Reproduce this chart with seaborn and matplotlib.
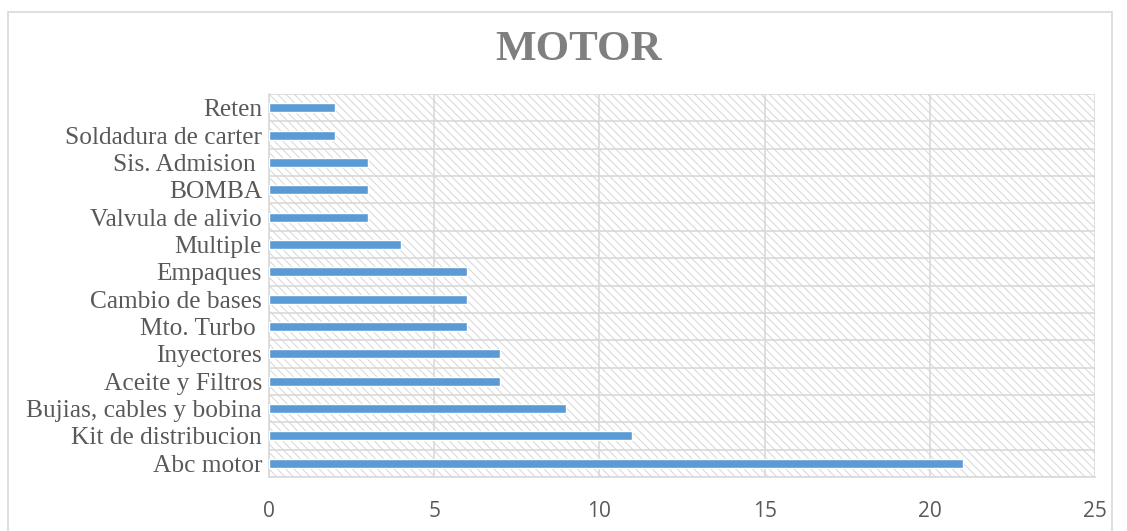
import matplotlib
matplotlib.use("Agg")
import matplotlib.pyplot as plt
from matplotlib.patches import Rectangle
from matplotlib.ticker import MultipleLocator
import seaborn as sns
import pandas as pd

categories = [
    "Reten", "Soldadura de carter", "Sis. Admision ", "BOMBA",
    "Valvula de alivio", "Multiple", "Empaques", "Cambio de bases",
    "Mto. Turbo ", "Inyectores", "Aceite y Filtros",
    "Bujias, cables y bobina", "Kit de distribucion", "Abc motor",
]
values = [2, 2, 3, 3, 3, 4, 6, 6, 6, 7, 7, 9, 11, 21]
x_ticks = [0, 5, 10, 15, 20, 25]

df = pd.DataFrame({"categoria": categories, "valor": values})

sns.set_theme(style="white")
plt.rcParams["hatch.linewidth"] = 0.7
plt.rcParams["hatch.color"] = "#d6d6d6"

fig = plt.figure(figsize=(11.27, 5.31), dpi=100)
ax = fig.add_axes([269 / 1127, 1 - 477 / 531, (1095 - 269) / 1127, (477 - 94) / 531])

# hatched plot-area background
ax.add_patch(Rectangle((0, 0), 1, 1, transform=ax.transAxes, facecolor="white",
                       edgecolor="#d6d6d6", hatch="\\\\\\\\", linewidth=0, zorder=0))

sns.barplot(data=df, x="valor", y="categoria", orient="h", color="#5B9BD5",
            width=0.33, saturation=1, ax=ax, zorder=3)

ax.set_xlim(0, 25)
ax.set_ylim(len(categories) - 0.5, -0.5)
ax.set_xticks(x_ticks)
ax.set_xticklabels([str(t) for t in x_ticks])
ax.yaxis.set_minor_locator(MultipleLocator(1, offset=0.5))
ax.grid(True, axis="x", which="major", color="#d9d9d9", linewidth=1.2, zorder=1)
ax.grid(True, axis="y", which="minor", color="#d9d9d9", linewidth=1.2, zorder=1)
ax.grid(False, axis="y", which="major")
ax.set_axisbelow(True)
for s in ax.spines.values():
    s.set_visible(False)
ax.spines["left"].set_visible(True)
ax.spines["left"].set_color("#d9d9d9")
ax.spines["left"].set_linewidth(1.2)
ax.spines["bottom"].set_visible(True)
ax.spines["bottom"].set_color("#d9d9d9")
ax.spines["bottom"].set_linewidth(1.2)
ax.set_xlabel("")
ax.set_ylabel("")
ax.tick_params(axis="both", which="both", length=0)
ax.tick_params(axis="x", pad=17, labelsize=15, labelcolor="#595959")
ax.tick_params(axis="y", pad=5, labelsize=18.3, labelcolor="#595959")
for lbl in ax.get_yticklabels():
    lbl.set_fontfamily("Liberation Serif")
for lbl in ax.get_xticklabels():
    lbl.set_fontfamily("Open Sans")

fig.text(579 / 1127, 1 - 50 / 531, "MOTOR", ha="center", va="center",
         fontsize=31, fontweight="bold", color="#7f7f7f", family="Liberation Serif")

# chart frame
fig.add_artist(Rectangle((8 / 1127, -0.02), (1112 - 8) / 1127, 1 - 12 / 531 + 0.02,
                         transform=fig.transFigure, fill=False,
                         edgecolor="#d9d9d9", linewidth=1.2))

fig.savefig("out.png", dpi=100)
